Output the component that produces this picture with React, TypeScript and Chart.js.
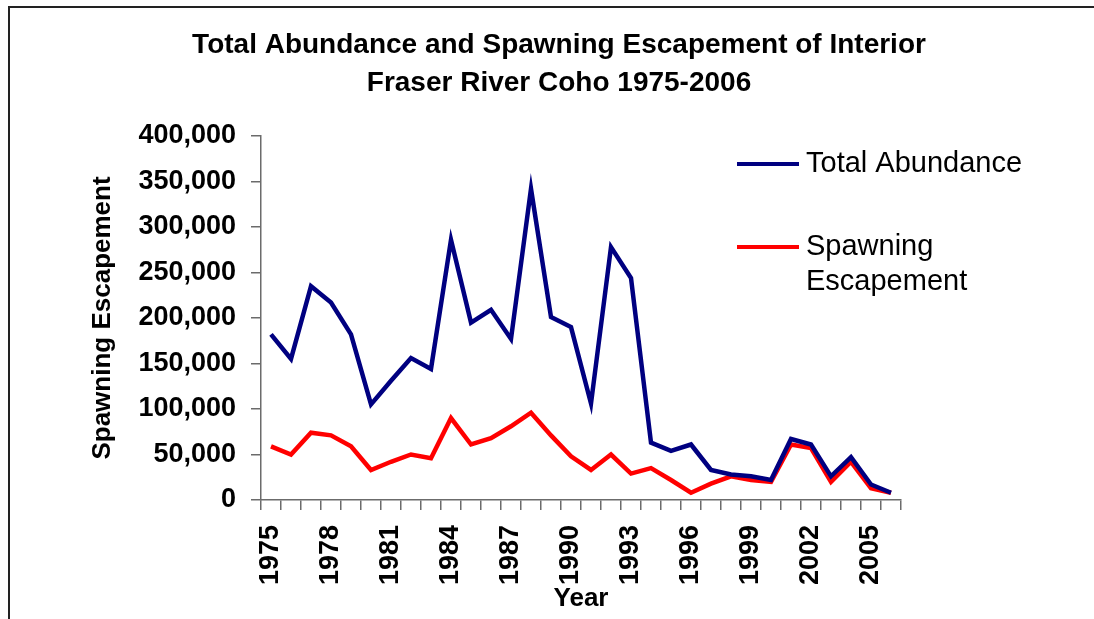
import React, { useEffect, useRef } from 'react';
import { Chart, registerables } from 'chart.js';

Chart.register(...registerables);

const FONT = '"Liberation Sans", Arial, Helvetica, sans-serif';

const years = [
  '1975', '1976', '1977', '1978', '1979', '1980', '1981', '1982', '1983', '1984',
  '1985', '1986', '1987', '1988', '1989', '1990', '1991', '1992', '1993', '1994',
  '1995', '1996', '1997', '1998', '1999', '2000', '2001', '2002', '2003', '2004',
  '2005', '2006',
];

const totalAbundance = [
  182000, 155000, 235000, 217000, 182000, 105000, 131000, 156000, 144000, 286000,
  195000, 209000, 177000, 342000, 201000, 190000, 106000, 278000, 244000, 63000,
  54000, 61000, 33000, 28000, 26000, 22000, 67000, 61000, 26000, 47000,
  17000, 8000,
];

const spawningEscapement = [
  59000, 50000, 74000, 71000, 59000, 33000, 42000, 50000, 46000, 90000,
  61000, 68000, 81000, 96000, 71000, 48000, 33000, 50000, 29000, 35000,
  22000, 8000, 18000, 26000, 22000, 20000, 61000, 57000, 20000, 42000,
  13000, 8000,
];

const seriesNames = ['Total Abundance', 'Spawning Escapement'];
const legendLines = [['Total Abundance'], ['Spawning', 'Escapement']];
const titleLines = ['Total Abundance and Spawning Escapement of Interior', 'Fraser River Coho 1975-2006'];
const yAxisTitle = 'Spawning Escapement';
const xAxisTitle = 'Year';
const yMin = 0;
const yMax = 400000;
const yStep = 50000;
const labelEvery = 3;

const legendPlugin = {
  id: 'customLegend',
  afterDraw(chart: any) {
    const ctx = chart.ctx;
    const rows = [
      { lineY: 164, textY: [164] },
      { lineY: 247, textY: [247, 282] },
    ];
    ctx.save();
    ctx.font = `29px ${FONT}`;
    ctx.textBaseline = 'middle';
    ctx.textAlign = 'left';
    chart.data.datasets.forEach((ds: any, i: number) => {
      const r = rows[i];
      ctx.strokeStyle = ds.borderColor;
      ctx.lineWidth = 4;
      ctx.lineCap = 'butt';
      ctx.beginPath();
      ctx.moveTo(737, r.lineY);
      ctx.lineTo(799, r.lineY);
      ctx.stroke();
      ctx.fillStyle = '#000';
      legendLines[i].forEach((t, j) => ctx.fillText(t, 806, r.textY[j]));
    });
    ctx.restore();
  },
};

export default function App() {
  const ref = useRef<HTMLCanvasElement | null>(null);

  useEffect(() => {
    if (!ref.current) return;
    Chart.defaults.font.family = FONT;
    const axisColor = '#6b6b6b';
    const chart = new Chart(ref.current, {
      type: 'line',
      data: {
        labels: years,
        datasets: [
          {
            label: seriesNames[0],
            data: totalAbundance,
            borderColor: '#000080',
            backgroundColor: '#000080',
            borderWidth: 4.5,
            pointRadius: 0,
            tension: 0,
            yAxisID: 'y',
          },
          {
            label: seriesNames[1],
            data: spawningEscapement,
            borderColor: '#ff0000',
            backgroundColor: '#ff0000',
            borderWidth: 4.5,
            pointRadius: 0,
            tension: 0,
            yAxisID: 'y',
          },
        ],
      },
      options: {
        responsive: false,
        animation: false,
        layout: { padding: { left: 24, right: 0, top: 0, bottom: 0 } },
        plugins: {
          legend: { display: false },
          tooltip: { enabled: false },
          title: {
            display: true,
            text: titleLines,
            color: '#000',
            font: { size: 28, weight: 'bold', family: FONT, lineHeight: 38 / 28 },
            padding: { top: 26, bottom: 34 },
          },
        },
        scales: {
          x: {
            type: 'category',
            offset: true,
            grid: {
              display: true,
              drawOnChartArea: false,
              drawTicks: true,
              tickLength: 10,
              offset: true,
              color: axisColor,
              lineWidth: 1.5,
            },
            border: { display: true, color: axisColor, width: 1.5 },
            ticks: {
              autoSkip: false,
              minRotation: 90,
              maxRotation: 90,
              padding: 15,
              color: '#000',
              font: { size: 27, weight: 'bold', family: FONT },
              callback: (val: any, idx: number) => (idx % labelEvery === 0 ? years[idx] : ''),
            },
            title: {
              display: true,
              text: xAxisTitle,
              color: '#000',
              font: { size: 26, weight: 'bold', family: FONT, lineHeight: 1.2 },
              padding: { top: 0, bottom: 5 },
            },
            afterFit: (s: any) => {
              s.height = 119;
            },
          },
          y: {
            type: 'linear',
            position: 'left',
            min: yMin,
            max: yMax,
            grid: {
              display: true,
              drawOnChartArea: false,
              drawTicks: true,
              tickLength: 10,
              color: axisColor,
              lineWidth: 1.5,
            },
            border: { display: true, color: axisColor, width: 1.5 },
            ticks: {
              stepSize: yStep,
              padding: 15,
              color: '#000',
              font: { size: 27, weight: 'bold', family: FONT },
              callback: (v: any) => Number(v).toLocaleString('en-US'),
            },
            title: {
              display: true,
              text: yAxisTitle,
              color: '#000',
              font: { size: 26, weight: 'bold', family: FONT, lineHeight: 1.2 },
              padding: { top: 63, bottom: 0 },
            },
            afterFit: (s: any) => {
              s.width = 237;
            },
          },
          spacer: {
            type: 'linear',
            position: 'right',
            display: true,
            grid: { display: false, drawTicks: false },
            border: { display: false },
            ticks: { display: false },
            afterFit: (s: any) => {
              s.width = 193;
            },
          },
        },
      },
      plugins: [legendPlugin],
    });
    return () => chart.destroy();
  }, []);

  return (
    <div>
      <div
        style={{
          position: 'fixed',
          left: 8,
          top: 6,
          width: 1094 - 8,
          height: 619 - 6,
          borderTop: '2px solid #222',
          borderLeft: '2px solid #222',
          boxSizing: 'border-box',
          background: '#fff',
        }}
      />
      <canvas
        ref={ref}
        width={1094}
        height={619}
        style={{ position: 'fixed', left: 0, top: 0, width: 1094, height: 619 }}
      />
    </div>
  );
}
